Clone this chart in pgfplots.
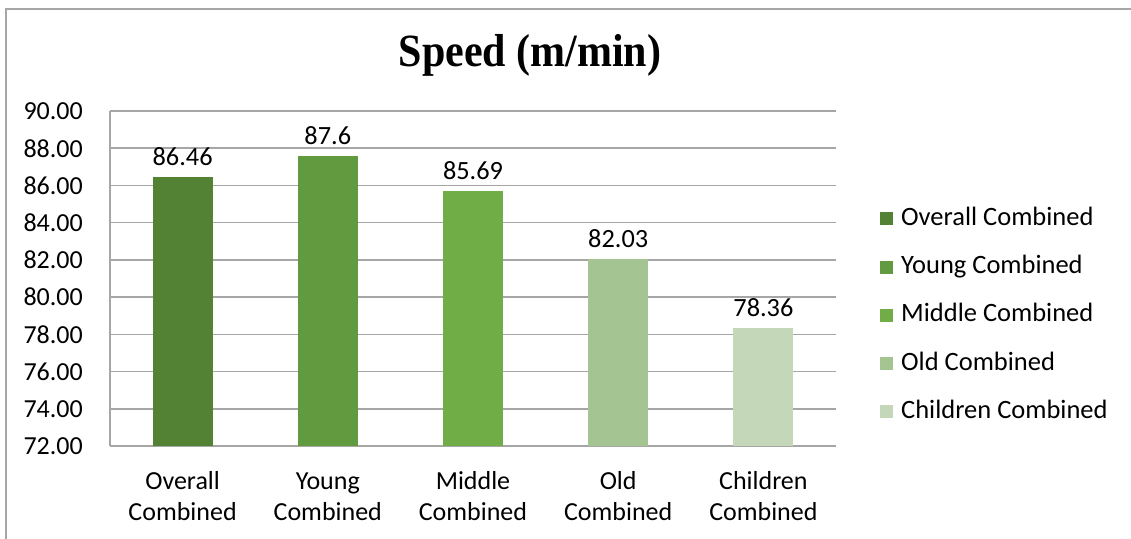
\documentclass[border=0pt]{standalone}
\usepackage{pgfplots}
\pgfplotsset{compat=1.18}
\usepackage{fontspec}
\setmainfont{Carlito}
\newfontfamily\titlefont{Liberation Serif}
\definecolor{cA}{HTML}{548235}
\definecolor{cB}{HTML}{619A3F}
\definecolor{cC}{HTML}{70AD47}
\definecolor{cD}{HTML}{A4C591}
\definecolor{cE}{HTML}{C4D8B9}
\definecolor{gridc}{HTML}{A6A6A6}
\newcommand{\fl}{\rule{0pt}{19pt}}
\begin{document}
\begin{tikzpicture}[x=1pt,y=1pt]
\useasboundingbox (0,0) rectangle (1131,-538);
\draw[gridc, line width=1.5pt] (6,-560) -- (6,-9) -- (1140,-9);
\node[font=\titlefont\bfseries\fontsize{42}{48}\selectfont, yscale=1.1] at (530,-55) {Speed (m/min)};
\begin{axis}[
  at={(110pt,-446pt)}, anchor=south west,
  scale only axis, width=726pt, height=335pt,
  xmin=-0.5, xmax=4.5, ymin=72, ymax=90,
  ytick={72,74,...,90},
  xtick={0,1,2,3,4},
  xticklabels={{\fl Overall\\Combined},{\fl Young\\Combined},{\fl Middle\\Combined},{\fl Old\\Combined},{\fl Children\\Combined}},
  major tick length=0pt,
  axis x line*=bottom, axis y line*=left,
  axis line style={gridc, line width=1.5pt, -},
  ymajorgrids, major grid style={gridc, line width=1.5pt},
  /pgf/number format/.cd, fixed, fixed zerofill, precision=2, assume math mode=true,
  /pgfplots/.cd,
  tick label style={font=\fontsize{26}{31}\selectfont},
  yticklabel style={anchor=east, inner sep=0pt, xshift=-27pt},
  xticklabel style={anchor=north, inner sep=0pt, yshift=-24pt, align=center},
  every axis plot/.append style={ybar, bar width=60pt, bar shift=0pt, draw=none},
  point meta=explicit symbolic,
  nodes near coords,
  every node near coord/.append style={font=\fontsize{26.3}{31}\selectfont, anchor=south, inner sep=0pt, yshift=11pt, text=black},
  legend image code/.code={\fill[#1] (0pt,-6.5pt) rectangle (13pt,6.5pt);},
  legend style={at={(1.0606,0.7164)}, anchor=north west, draw=none, fill=none, inner sep=0pt,
    row sep=23.3pt, font=\fontsize{26.5}{31}\selectfont,
    nodes={inner sep=0pt, text height=19pt, text depth=6pt},
    /tikz/every odd column/.append style={column sep=8pt}},
  legend cell align=left,
  clip=false,
]
\addplot[fill=cA] coordinates {(0,86.46) [86.46]};
\addplot[fill=cB] coordinates {(1,87.6) [87.6]};
\addplot[fill=cC] coordinates {(2,85.69) [85.69]};
\addplot[fill=cD] coordinates {(3,82.03) [82.03]};
\addplot[fill=cE] coordinates {(4,78.36) [78.36]};
\legend{Overall Combined, Young Combined, Middle Combined, Old Combined, Children Combined}
\end{axis}
\end{tikzpicture}
\end{document}
